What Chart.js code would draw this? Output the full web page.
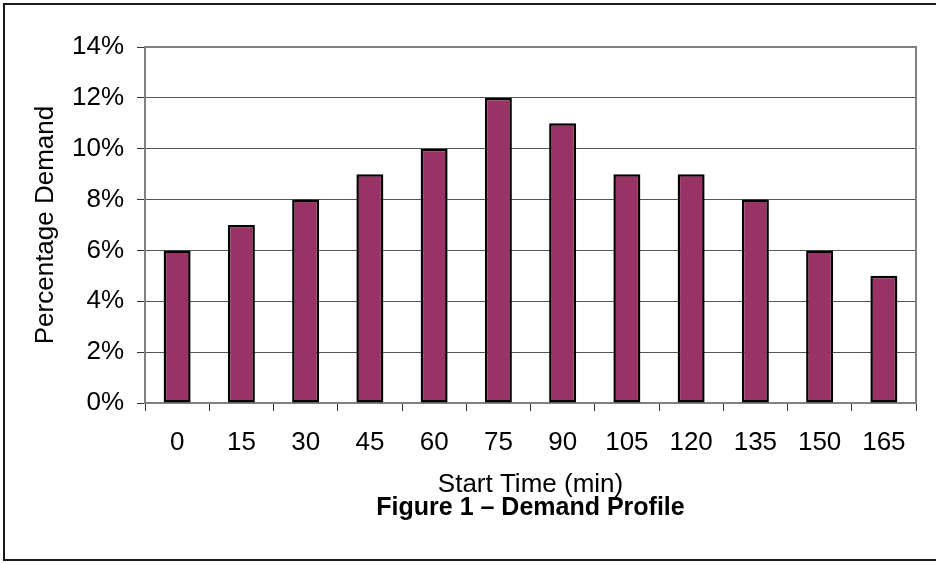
<!DOCTYPE html>
<html lang="en">
<head>
    <meta charset="UTF-8">
    <title>Figure 1 – Demand Profile</title>
    <script src="https://cdn.jsdelivr.net/npm/chart.js@4.4.1/dist/chart.umd.min.js"></script>
    <style>
        body {
            margin: 0;
            background-color: white;
            overflow: hidden;
        }
        #chart {
            display: block;
        }
    </style>
</head>
<body>
    <canvas id="chart" width="936" height="563" style="width:936px;height:563px"></canvas>

    <script>
        // start times (min) and share of demand (%)
        const startTimes = ['0', '15', '30', '45', '60', '75', '90', '105', '120', '135', '150', '165'];
        const demandPct = [6, 7, 8, 9, 10, 12, 11, 9, 9, 8, 6, 5];
        const yTicks = [0, 2, 4, 6, 8, 10, 12, 14];
        const caption = 'Figure 1 – Demand Profile';

        const FONT = '"Liberation Sans", Arial, sans-serif';

        // outer frame, gray plot border and the bold caption under the axis title
        const framePlugin = {
            id: 'frame',
            afterDraw(chart) {
                const ctx = chart.ctx;
                const area = chart.chartArea;
                ctx.save();
                ctx.strokeStyle = '#808080';
                ctx.lineWidth = 2;
                ctx.beginPath();
                ctx.moveTo(area.left, area.top);
                ctx.lineTo(area.right, area.top);
                ctx.lineTo(area.right, area.bottom);
                ctx.stroke();

                ctx.strokeStyle = '#1a1a1a';
                ctx.lineWidth = 2;
                ctx.strokeRect(4, 4, 1000, 556);

                ctx.fillStyle = '#000';
                ctx.font = 'bold 25px ' + FONT;
                ctx.textAlign = 'center';
                ctx.textBaseline = 'middle';
                ctx.fillText(caption, (area.left + area.right) / 2, 508);
                ctx.restore();
            }
        };

        const ctx = document.getElementById('chart').getContext('2d');
        new Chart(ctx, {
            type: 'bar',
            data: {
                labels: startTimes,
                datasets: [{
                    label: 'Percentage Demand',
                    data: demandPct,
                    backgroundColor: '#993366',
                    borderColor: '#000000',
                    borderWidth: 2.5,
                    borderSkipped: false,
                    categoryPercentage: 1.0,
                    barPercentage: 0.42
                }]
            },
            options: {
                responsive: false,
                animation: false,
                layout: {
                    padding: { top: 47, right: 20, left: 0, bottom: 0 }
                },
                plugins: {
                    legend: { display: false },
                    tooltip: { enabled: false }
                },
                scales: {
                    x: {
                        offset: true,
                        grid: {
                            offset: true,
                            drawOnChartArea: false,
                            drawTicks: true,
                            tickLength: 8,
                            color: '#333',
                            lineWidth: 1
                        },
                        border: { color: '#808080', width: 2 },
                        ticks: {
                            padding: 16,
                            color: '#000',
                            font: { family: FONT, size: 26 }
                        },
                        title: {
                            display: true,
                            text: 'Start Time (min)',
                            color: '#000',
                            font: { family: FONT, size: 26 },
                            padding: { top: 0, bottom: 63 }
                        },
                        afterFit(scale) {
                            scale.height = 160;
                        }
                    },
                    y: {
                        min: yTicks[0],
                        max: yTicks[yTicks.length - 1],
                        afterBuildTicks(scale) {
                            scale.ticks = yTicks.map(v => ({ value: v }));
                        },
                        grid: {
                            color: '#555',
                            lineWidth: 1,
                            tickLength: 8,
                            tickColor: '#333'
                        },
                        border: { color: '#808080', width: 2 },
                        ticks: {
                            padding: 13,
                            color: '#000',
                            font: { family: FONT, size: 26 },
                            callback: v => v + '%'
                        },
                        title: {
                            display: true,
                            text: 'Percentage Demand',
                            color: '#000',
                            font: { family: FONT, size: 26 },
                            padding: { top: 30, bottom: 0 }
                        },
                        afterFit(scale) {
                            scale.width = 145;
                        }
                    }
                }
            },
            plugins: [framePlugin]
        });
    </script>
</body>
</html>
